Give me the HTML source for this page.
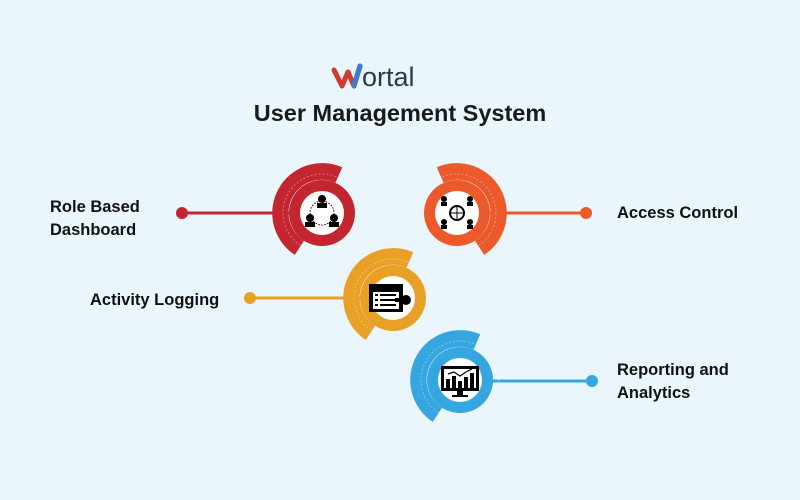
<!DOCTYPE html>
<html><head><meta charset="utf-8"><style>
html,body{margin:0;padding:0;background:#eaf6fb;}
svg{display:block;font-family:"Liberation Sans",sans-serif;}
</style></head><body>
<svg width="800" height="500" viewBox="0 0 800 500">
<rect width="800" height="500" fill="#eaf6fb"/>
<defs>
<path id="band" d="M 20.3 -45.7 A 50 50 0 0 0 -27.2 41.9 L -18 27.7 A 33 33 0 0 1 13.4 -30.2 Z"/>
</defs>
<g>
<path d="M334 70 L342 86 L348 72 L354 86 L360 66" fill="none" stroke="#d13a2e" stroke-width="5" stroke-linecap="round" stroke-linejoin="round"/>
<path d="M354 86 L360 66" stroke="#3a7bd5" stroke-width="5" stroke-linecap="round"/>
<text x="362" y="86" font-size="27" fill="#2d3a4a">ortal</text>
</g>
<text x="400" y="121" font-size="23.5" font-weight="bold" text-anchor="middle" fill="#1a1a1a">User Management System</text>
<g stroke-width="3">
<line x1="182" y1="213" x2="290" y2="213" stroke="#c3262e"/>
<line x1="490" y1="213" x2="586" y2="213" stroke="#ec5a2c"/>
<line x1="250" y1="298" x2="360" y2="298" stroke="#e8a126"/>
<line x1="490" y1="381" x2="592" y2="381" stroke="#35a6e0"/>
</g>
<circle cx="182" cy="213" r="6" fill="#c3262e"/>
<circle cx="586" cy="213" r="6" fill="#ec5a2c"/>
<circle cx="250" cy="298" r="6" fill="#e8a126"/>
<circle cx="592" cy="381" r="6" fill="#35a6e0"/>
<g transform="translate(322,213)">
<use href="#band" fill="#c3262e"/>
<circle r="33" fill="#c3262e"/>
<circle r="39" fill="none" stroke="#fff" stroke-opacity="0.35" stroke-dasharray="2 2"/>
<circle r="22" fill="#fff"/>
<circle r="12" fill="none" stroke="#000" stroke-dasharray="1.5 1.5"/>
<circle cx="0" cy="-14" r="4" fill="#000"/><rect x="-5" y="-10" width="10" height="5" fill="#000"/>
<circle cx="-12" cy="5" r="4" fill="#000"/><rect x="-17" y="9" width="10" height="5" fill="#000"/>
<circle cx="12" cy="5" r="4" fill="#000"/><rect x="7" y="9" width="10" height="5" fill="#000"/>
</g>
<g transform="translate(457,213)">
<use href="#band" fill="#ec5a2c" transform="scale(-1,1)"/>
<circle r="33" fill="#ec5a2c"/>
<circle r="39" fill="none" stroke="#fff" stroke-opacity="0.35" stroke-dasharray="2 2"/>
<circle r="22" fill="#fff"/>
<circle r="7" fill="none" stroke="#000" stroke-width="2"/>
<line x1="-7" y1="0" x2="7" y2="0" stroke="#000"/><line x1="0" y1="-7" x2="0" y2="7" stroke="#000"/>
<g fill="#000">
<circle cx="-13" cy="-14" r="3"/><rect x="-16" y="-11" width="6" height="4"/>
<circle cx="13" cy="-14" r="3"/><rect x="10" y="-11" width="6" height="4"/>
<circle cx="-13" cy="9" r="3"/><rect x="-16" y="12" width="6" height="4"/>
<circle cx="13" cy="9" r="3"/><rect x="10" y="12" width="6" height="4"/>
</g>
</g>
<g transform="translate(393,298)">
<use href="#band" fill="#e8a126"/>
<circle r="33" fill="#e8a126"/>
<circle r="39" fill="none" stroke="#fff" stroke-opacity="0.35" stroke-dasharray="2 2"/>
<circle r="22" fill="#fff"/>
<rect x="-24" y="-14" width="34" height="28" fill="#000"/>
<rect x="-20" y="-6" width="26" height="17" fill="#fff"/>
<g fill="#000"><rect x="-18" y="-4" width="3" height="2"/><rect x="-13" y="-4" width="16" height="2"/><rect x="-18" y="1" width="3" height="2"/><rect x="-13" y="1" width="16" height="2"/><rect x="-18" y="6" width="3" height="2"/><rect x="-13" y="6" width="16" height="2"/></g>
<circle cx="13" cy="2" r="5" fill="#000"/><rect x="2" y="0" width="10" height="4" fill="#000"/>
</g>
<g transform="translate(460,380)">
<use href="#band" fill="#35a6e0"/>
<circle r="33" fill="#35a6e0"/>
<circle r="39" fill="none" stroke="#fff" stroke-opacity="0.35" stroke-dasharray="2 2"/>
<circle r="22" fill="#fff"/>
<rect x="-19" y="-14" width="38" height="25" fill="#000"/>
<rect x="-16" y="-11" width="32" height="19" fill="#fff"/>
<g fill="#000"><rect x="-14" y="-1" width="4" height="9"/><rect x="-8" y="-4" width="4" height="12"/><rect x="-2" y="1" width="4" height="7"/><rect x="4" y="-3" width="4" height="11"/><rect x="10" y="-7" width="4" height="15"/><rect x="-3" y="11" width="6" height="4"/><rect x="-8" y="15" width="16" height="2"/></g>
<polyline points="-12,-6 -6,-8 0,-4 6,-8 12,-11" fill="none" stroke="#000" stroke-width="1.2"/>
</g>
<g font-size="16.5" font-weight="bold" fill="#111">
<text x="50" y="212">Role Based</text>
<text x="50" y="235">Dashboard</text>
<text x="617" y="218">Access Control</text>
<text x="90" y="305">Activity Logging</text>
<text x="617" y="375">Reporting and</text>
<text x="617" y="398">Analytics</text>
</g>
</svg>
</body></html>
